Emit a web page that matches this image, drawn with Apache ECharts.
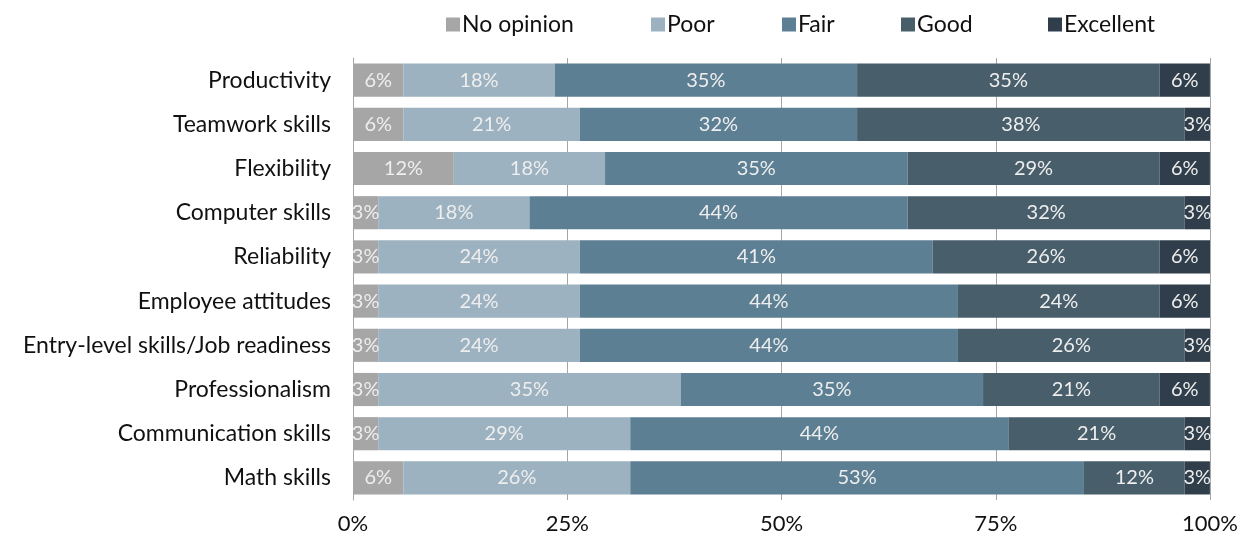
<!DOCTYPE html>
<html>
<head>
<meta charset="utf-8">
<script src="https://cdn.jsdelivr.net/npm/echarts@6/dist/echarts.min.js"></script>
<style>
  html, body { margin: 0; padding: 0; background: #fff; }
  #chart { width: 1250px; height: 550px; }
</style>
</head>
<body>
<div id="chart"></div>
<script>
var categories = [
  "Productivity",
  "Teamwork skills",
  "Flexibility",
  "Computer skills",
  "Reliability",
  "Employee attitudes",
  "Entry-level skills/Job readiness",
  "Professionalism",
  "Communication skills",
  "Math skills"
];
var tickLabels = ["0%", "25%", "50%", "75%", "100%"];

// percent of respondents, top row first
var noOpinion = [5.88, 5.88, 11.76, 2.94, 2.94, 2.94, 2.94, 2.94, 2.94, 5.88];
var poor = [17.65, 20.59, 17.65, 17.65, 23.53, 23.53, 23.53, 35.29, 29.41, 26.47];
var fair = [35.29, 32.35, 35.29, 44.12, 41.18, 44.12, 44.12, 35.29, 44.12, 52.94];
var good = [35.29, 38.24, 29.41, 32.35, 26.47, 23.53, 26.47, 20.59, 20.59, 11.76];
var excellent = [5.88, 2.94, 5.88, 2.94, 5.88, 5.88, 2.94, 5.88, 2.94, 2.94];

var seriesNames = ["No opinion", "Poor", "Fair", "Good", "Excellent"];
var seriesData = [noOpinion, poor, fair, good, excellent];
var colors = ["#a6a6a6", "#9db2c0", "#5c7f93", "#485e6b", "#2f3e4a"];
var legendLeft = [441, 646, 777, 896, 1043];

var font = "Lato, 'Noto Sans', sans-serif";

var chart = echarts.init(document.getElementById("chart"));
chart.setOption({
  animation: false,
  textStyle: { fontFamily: font },
  // one legend per item so each can sit where the reference puts it
  legend: seriesNames.map(function (n, i) {
    return {
      top: 8,
      left: legendLeft[i],
      itemWidth: 14,
      itemHeight: 14,
      icon: "rect",
      textStyle: { fontSize: 23, color: "#111", fontFamily: font, padding: [0, 0, 0, -3] },
      data: [n]
    };
  }),
  grid: {
    left: 353,
    right: 40,
    top: 58,
    bottom: 50
  },
  xAxis: {
    type: "value",
    min: 0,
    max: 100,
    interval: 25,
    axisLine: { show: false },
    axisTick: { show: false },
    splitLine: { show: true, lineStyle: { color: "#a6a6a6", width: 1 } },
    axisLabel: {
      fontSize: 22,
      color: "#111",
      margin: 13,
      formatter: function (v) { return tickLabels[v / 25]; }
    }
  },
  yAxis: {
    type: "category",
    inverse: true,
    data: categories,
    axisLine: { show: true, lineStyle: { color: "#a6a6a6" } },
    axisTick: { show: false },
    axisLabel: { fontSize: 23, color: "#111", margin: 22 }
  },
  series: seriesNames.map(function (name, i) {
    return {
      name: name,
      type: "bar",
      stack: "total",
      barCategoryGap: "25%",
      itemStyle: { color: colors[i] },
      label: {
        show: true,
        position: "inside",
        fontSize: 20,
        color: "#eeeeee",
        fontFamily: font,
        formatter: function (p) { return Math.round(p.value) + "%"; }
      },
      data: seriesData[i]
    };
  })
});
</script>
</body>
</html>
